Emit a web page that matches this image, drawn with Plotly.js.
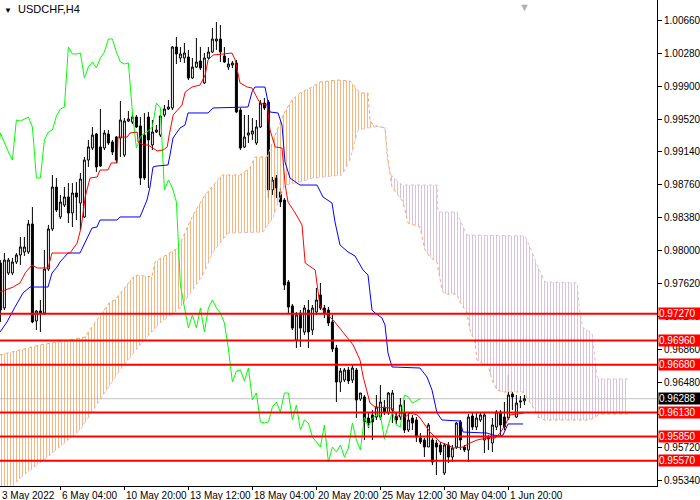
<!DOCTYPE html>
<html>
<head>
<meta charset="utf-8">
<script src="https://cdn.plot.ly/plotly-3.0.1.min.js"></script>
<style>html,body{margin:0;padding:0;background:#fff;}#chart{width:700px;height:500px;}</style>
</head>
<body>
<div id="chart"></div>
<script>
// ---- data ----
const symbolTitle = "USDCHF,H4";
const openP = [0.97857,0.97337,0.97741,0.97741,0.97868,0.97949,0.97984,0.97984,0.98308,0.97186,
0.97302,0.97279,0.97787,0.98250,0.98735,0.98389,0.98527,0.98620,0.98435,0.98666,
0.98550,0.98389,0.99047,0.99186,0.99348,0.99198,0.99186,0.99348,0.99256,0.99313,
0.99302,0.99105,0.99498,0.99487,0.99544,0.99441,0.99336,0.99544,0.99221,0.99371,
0.99336,0.99568,0.99637,0.99649,1.00354,1.00227,1.00227,1.00238,0.99995,1.00122,
1.00192,0.99938,1.00227,1.00296,1.00423,1.00446,1.00250,1.00122,1.00146,1.00169,
0.99625,0.99198,0.99336,0.99348,0.99244,0.99429,0.99706,0.99718,0.98701,0.98839,
0.98677,0.98585,0.97637,0.97360,0.96966,0.97279,0.97059,0.97313,0.97082,0.97290,
0.97487,0.97337,0.97313,0.97175,0.96874,0.96481,0.96504,0.96620,0.96504,0.96620,
0.96285,0.96308,0.96065,0.96100,0.96076,0.96076,0.96192,0.96123,0.96157,0.96088,
0.96076,0.96123,0.95926,0.96065,0.96042,0.95834,0.95811,0.95730,0.95811,0.95776,
0.95753,0.95429,0.95753,0.95614,0.95730,0.96019,0.95730,0.95695,0.96088,0.95961,
0.96042,0.95811,0.95845,0.95776,0.95961,0.96134,0.96076,0.96065,0.96342,0.96076,
0.96250,0.96262];
const highP = [0.97891,0.97972,0.97915,0.97915,0.97972,0.98157,0.98157,0.98354,0.98504,0.97313,
0.97429,0.98007,0.98297,0.98874,0.98839,0.98643,0.98735,0.98782,0.98782,0.98793,
0.98897,0.99082,0.99279,0.99429,0.99360,0.99637,0.99394,0.99394,0.99279,0.99325,
0.99729,0.99533,0.99614,0.99602,0.99568,0.99544,0.99591,0.99602,0.99510,0.99452,
0.99568,0.99683,0.99741,1.00366,1.00469,1.00354,1.00400,1.00319,1.00227,1.00458,
1.00354,1.00284,1.00354,1.00573,1.00643,1.00608,1.00354,1.00227,1.00192,1.00204,
0.99649,0.99568,0.99568,0.99533,0.99510,0.99741,0.99764,0.99741,0.98851,0.98874,
0.98724,0.98608,0.97660,0.97383,0.97290,0.97313,0.97371,0.97429,0.97371,0.97568,
0.97626,0.97371,0.97348,0.97256,0.96909,0.96643,0.96643,0.96655,0.96677,0.96643,
0.96354,0.96331,0.96134,0.96157,0.96331,0.96446,0.96273,0.96366,0.96389,0.96134,
0.96296,0.96273,0.96123,0.96100,0.96076,0.95891,0.95834,0.96007,0.95834,0.95811,
0.95788,0.95776,0.95788,0.95753,0.96019,0.96042,0.95753,0.96111,0.96123,0.96123,
0.96123,0.96123,0.95868,0.96065,0.96157,0.96157,0.96250,0.96562,0.96366,0.96331,
0.96320,0.96331];
const lowP = [0.97175,0.97313,0.97718,0.97718,0.97845,0.97834,0.97938,0.97961,0.97160,0.97082,
0.97059,0.97256,0.97764,0.98227,0.98446,0.98365,0.98504,0.98319,0.98273,0.98354,
0.98238,0.98377,0.98967,0.99163,0.98909,0.98967,0.99163,0.99221,0.99105,0.99013,
0.99082,0.99082,0.99487,0.99464,0.99417,0.98758,0.98816,0.98724,0.99163,0.99360,
0.99313,0.99544,0.99625,0.99625,1.00157,1.00180,1.00169,0.99972,0.99984,1.00111,
1.00088,0.99926,1.00215,1.00284,1.00319,1.00180,1.00169,1.00088,1.00111,0.99591,
0.99163,0.99186,0.99244,0.99279,0.99221,0.99417,0.99625,0.98608,0.98643,0.98608,
0.98504,0.97545,0.97279,0.97082,0.96874,0.96886,0.97024,0.96874,0.97024,0.97256,
0.97313,0.97221,0.97128,0.96828,0.96250,0.96366,0.96481,0.96458,0.96470,0.96065,
0.96262,0.95811,0.95949,0.95811,0.96042,0.96042,0.96100,0.96100,0.96007,0.95996,
0.96042,0.95891,0.95903,0.95926,0.95788,0.95764,0.95614,0.95730,0.95521,0.95406,
0.95637,0.95406,0.95545,0.95556,0.95707,0.95695,0.95672,0.95556,0.95926,0.95926,
0.96019,0.95660,0.95695,0.95672,0.95926,0.95868,0.95926,0.96042,0.96157,0.96065,
0.96180,0.96215];
const closeP = [0.97313,0.97891,0.97891,0.97868,0.97949,0.98042,0.98042,0.98308,0.97175,0.97302,
0.97279,0.97787,0.98250,0.98735,0.98469,0.98562,0.98620,0.98435,0.98666,0.98620,
0.98828,0.99047,0.99198,0.99336,0.98967,0.98978,0.99360,0.99244,0.99140,0.99047,
0.99510,0.99498,0.99521,0.99544,0.99429,0.98839,0.98839,0.99279,0.99371,0.99394,
0.99556,0.99637,0.99660,1.00354,1.00273,1.00273,1.00284,0.99995,1.00122,1.00180,
1.00111,1.00227,1.00296,1.00446,1.00446,1.00296,1.00180,1.00157,1.00169,0.99602,
0.99186,0.99313,0.99360,0.99383,0.99429,0.99706,0.99649,0.98701,0.98816,0.98724,
0.98562,0.97602,0.97348,0.97105,0.97256,0.97105,0.97337,0.97059,0.97337,0.97429,
0.97337,0.97279,0.97163,0.96863,0.96481,0.96608,0.96620,0.96493,0.96643,0.96273,
0.96354,0.96019,0.96007,0.96019,0.96192,0.96250,0.96134,0.96354,0.96354,0.96042,
0.96215,0.95926,0.96042,0.96007,0.95845,0.95788,0.95730,0.95984,0.95556,0.95730,
0.95672,0.95753,0.95614,0.95718,0.96007,0.95811,0.95695,0.96076,0.95961,0.96065,
0.96100,0.96100,0.95822,0.95984,0.96134,0.95984,0.95961,0.96331,0.96308,0.96238,
0.96262,0.96288];

// Tenkan-sen (red) vertices: bar position / price
const tenkanN = [0.9,4.2,5.9,7.2,8.9,10.2,12.9,13.9,18.4,20.2,21.2,22.2,23.4,25.2,25.9,27.9,28.7,30.2,30.4,32.7,33.4,35.2,35.4,36.7,37.9,39.2,40.2,41.7,42.7,43.2,44.2,46.4,47.2,48.9,50.9,52.2,52.9,54.2,58.9,59.7,60.9,62.7,63.9,65.2,65.9,67.7,68.4,69.7,71.4,72.2,72.9,74.7,76.4,77.2,79.7,80.9,82.2,84.2,89.2,90.9,91.7,93.4,94.7,98.9,100.2,101.4,102.2,103.4,105.2,105.9,107.2,108.4,109.7,110.9,112.9,114.2,116.7,118.4,120.2,122.7,124.7,125.9,127.2,128.4,131.9];
const tenkanP = [0.97522,0.97579,0.97626,0.97741,0.97834,0.97799,0.97799,0.97972,0.97972,0.98088,0.98273,0.98620,0.98839,0.98851,0.98932,0.98932,0.99013,0.99013,0.99313,0.99313,0.99360,0.99371,0.99256,0.99221,0.99221,0.99186,0.99152,0.99163,0.99198,0.99336,0.99568,0.99683,0.99833,0.99891,0.99914,1.00030,1.00204,1.00261,1.00284,1.00204,0.99938,0.99891,0.99880,0.99764,0.99706,0.99683,0.99394,0.99198,0.99186,0.98758,0.98562,0.98435,0.98296,0.97857,0.97776,0.97360,0.97279,0.97198,0.96909,0.96735,0.96539,0.96238,0.96192,0.96180,0.96076,0.96134,0.96076,0.96123,0.96100,0.96065,0.95984,0.95903,0.95845,0.95788,0.95753,0.95718,0.95730,0.95776,0.95811,0.95834,0.95834,0.95891,0.95984,0.96100,0.96123];

// Kijun-sen (blue) vertices
const kijunN = [0.9,2.65,4.65,6.65,8.4,12.9,13.9,15.15,15.9,17.9,20.9,22.15,23.9,25.15,25.9,30.15,30.9,35.9,37.65,38.4,39.15,40.15,42.9,43.4,44.15,45.9,47.15,47.9,52.9,54.15,62.9,63.9,64.65,67.15,67.65,68.4,70.4,71.4,72.15,73.4,75.15,75.9,80.15,81.65,83.9,84.65,85.9,87.9,89.65,91.65,92.9,93.9,94.65,96.4,97.15,97.9,98.9,105.9,107.65,108.9,110.15,111.4,115.9,116.65,122.65,124.15,125.9,126.65,127.9,131.65];
const kijunP = [0.97059,0.97175,0.97348,0.97510,0.97579,0.97579,0.97741,0.97810,0.97868,0.97972,0.97972,0.98088,0.98261,0.98273,0.98354,0.98354,0.98389,0.98389,0.98585,0.98735,0.98967,0.98978,0.98990,0.99105,0.99302,0.99417,0.99452,0.99591,0.99591,0.99649,0.99660,0.99834,0.99891,0.99891,0.99764,0.99602,0.99591,0.99452,0.99024,0.98839,0.98781,0.98758,0.98758,0.98620,0.98550,0.98331,0.98065,0.97984,0.97938,0.97776,0.97718,0.97313,0.97279,0.97221,0.97140,0.96816,0.96655,0.96643,0.96539,0.96389,0.96123,0.96042,0.96030,0.95903,0.95891,0.95868,0.95857,0.95868,0.95996,0.95996];

// Senkou span A and B vertices (cloud)
const spanAN = [0.9,10.9,18.4,22.15,25.15,28.4,29.65,32.9,34.65,38.9,39.65,41.65,43.4,45.4,49.15,52.15,56.4,60.9,63.4,64.65,67.65,69.65,71.65,73.9,75.9,78.9,80.9,85.15,88.4,90.9,92.9,93.4,94.15,97.15,97.9,98.9,101.65,102.9,105.9,107.15,108.4,110.15,111.4,112.15,115.15,115.9,117.65,118.4,119.65,120.15,121.4,122.9,123.9,125.15,126.65,131.65,132.65,134.15,135.4,137.15,148.4,150.9,157.9];
const spanAP = [0.96793,0.96909,0.96967,0.97001,0.97198,0.97406,0.97429,0.97626,0.97718,0.97695,0.97868,0.97926,0.97972,0.98030,0.98412,0.98643,0.98874,0.98874,0.98955,0.99082,0.99082,0.99336,0.99568,0.99741,0.99822,0.99891,0.99949,0.99972,0.99961,0.99822,0.99822,0.99510,0.99452,0.99417,0.99047,0.98735,0.98562,0.98319,0.98273,0.98007,0.97926,0.97868,0.97545,0.97498,0.97498,0.97406,0.97279,0.97082,0.96943,0.96735,0.96701,0.96678,0.96504,0.96389,0.96366,0.96366,0.96296,0.96192,0.96076,0.96042,0.96042,0.96111,0.96111];
const spanBN = [0.9,5.9,13.4,20.9,25.9,30.9,35.9,40.9,45.9,51.65,54.15,57.9,66.65,69.15,70.4,72.15,75.9,79.15,86.4,88.4,90.4,94.15,97.15,97.65,98.4,99.15,101.4,110.15,110.4,115.15,115.9,117.65,132.15,133.4,135.15,137.15,145.15,145.9,146.65,148.9,150.15,150.9,157.9];
const spanBP = [0.95117,0.95371,0.95637,0.95926,0.96273,0.96620,0.96909,0.97163,0.97337,0.97718,0.97984,0.98204,0.98215,0.98377,0.98562,0.98758,0.98793,0.98839,0.98874,0.99047,0.99394,0.99429,0.99429,0.99082,0.98897,0.98851,0.98758,0.98758,0.98446,0.98446,0.98354,0.98180,0.98169,0.98042,0.97834,0.97637,0.97626,0.97279,0.97105,0.97048,0.96539,0.96516,0.96516];
const cloudCross = 94.15;
const chikouShift = 26;

// horizontal levels, price line, axis ticks
const levels = [0.97270, 0.96960, 0.96680, 0.96130, 0.95850, 0.95570];
const lastPrice = 0.96288;
const yTickVals = [1.0066,1.0028,0.9990,0.9952,0.9914,0.9876,0.9838,0.9800,0.9762,0.9724,0.9686,0.9648,0.9610,0.9572,0.9534];
const xTickPos = [0,16,32,48,64,80,96,112,128];
const xTickLabels = ["3 May 2022","6 May 04:00","10 May 20:00","13 May 12:00","18 May 04:00","20 May 20:00","25 May 12:00","30 May 04:00","1 Jun 20:00"];

// ---- build traces ----
const barX = openP.map((_, i) => i + 1);
const chikouX = barX.map(v => v - chikouShift);

function part(ns, ps, cond) {
  const xs = [], ys = [];
  ns.forEach((n, i) => { if (cond(n)) { xs.push(n); ys.push(ps[i]); } });
  return {xs, ys};
}
const aL = part(spanAN, spanAP, n => n <= cloudCross);
const bL = part(spanBN, spanBP, n => n <= cloudCross);
const aR = part(spanAN, spanAP, n => n >= cloudCross);
const bR = part(spanBN, spanBP, n => n >= cloudCross);

const FONT = "Liberation Sans, Arial, sans-serif";
const sandy = "#F4A460", thistle = "#D8BFD8";

const traces = [
  { type: "scatter", mode: "none", x: aL.xs.concat(bL.xs.slice().reverse()),
    y: aL.ys.concat(bL.ys.slice().reverse()), fill: "toself", fillcolor: "rgba(0,0,0,0)",
    fillpattern: {shape: "|", fgcolor: "rgba(244,164,96,0.8)", size: 3, solidity: 0.34, fillmode: "replace"},
    hoverinfo: "skip" },
  { type: "scatter", mode: "none", x: bR.xs.concat(aR.xs.slice().reverse()),
    y: bR.ys.concat(aR.ys.slice().reverse()), fill: "toself", fillcolor: "rgba(0,0,0,0)",
    fillpattern: {shape: "|", fgcolor: "rgba(216,191,216,0.95)", size: 3, solidity: 0.34, fillmode: "replace"},
    hoverinfo: "skip" },
  { type: "scatter", mode: "lines", x: spanAN, y: spanAP, line: {color: sandy, width: 1, dash: "dot"} },
  { type: "scatter", mode: "lines", x: spanBN, y: spanBP, line: {color: thistle, width: 1, dash: "dot"} },
  { type: "candlestick", x: barX, open: openP, high: highP, low: lowP, close: closeP,
    increasing: {line: {color: "#000000", width: 1}, fillcolor: "#FFFFFF"},
    decreasing: {line: {color: "#000000", width: 1}, fillcolor: "#000000"},
    whiskerwidth: 0 },
  { type: "scatter", mode: "lines", x: chikouX, y: closeP, line: {color: "#00FF00", width: 1} },
  { type: "scatter", mode: "lines", x: kijunN, y: kijunP, line: {color: "#0000FF", width: 1} },
  { type: "scatter", mode: "lines", x: tenkanN, y: tenkanP, line: {color: "#FF0000", width: 1} }
];

const shapes = [
  { type: "line", xref: "paper", x0: 0, x1: 1, yref: "y", y0: lastPrice, y1: lastPrice,
    line: {color: "#C0C0C0", width: 1}, layer: "below" }
].concat(levels.map(v => ({
  type: "line", xref: "paper", x0: 0, x1: 1, yref: "y", y0: v, y1: v,
  line: {color: "#FF0000", width: 2}, layer: "above"
})));

const annotations = [];
levels.forEach(v => annotations.push({
  xref: "paper", x: 1, xanchor: "left", xshift: 1, yref: "y", y: v, yanchor: "middle",
  text: v.toFixed(5), showarrow: false, bgcolor: "#FF0000", width: 41, height: 11,
  align: "left", borderpad: 0, font: {family: FONT, size: 10, color: "#FFFFFF"}
}));
annotations.push({
  xref: "paper", x: 1, xanchor: "left", xshift: 1, yref: "y", y: lastPrice, yanchor: "middle",
  text: lastPrice.toFixed(5), showarrow: false, bgcolor: "#000000", width: 41, height: 11,
  align: "left", borderpad: 0, font: {family: FONT, size: 10, color: "#FFFFFF"}
});
xTickPos.forEach((p, i) => {
  if (i === 0) {
    annotations.push({ xref: "paper", x: 0, xanchor: "left", yref: "paper", y: 0, yanchor: "top",
      yshift: -2, text: xTickLabels[i], showarrow: false, font: {family: FONT, size: 10, color: "#000"} });
  } else {
    annotations.push({ xref: "x", x: p, xanchor: "left", xshift: 0, yref: "paper", y: 0, yanchor: "top",
      yshift: -2, text: xTickLabels[i], showarrow: false, font: {family: FONT, size: 10, color: "#000"} });
  }
});
annotations.push({ xref: "paper", x: 0, xanchor: "left", xshift: 2, yref: "paper", y: 1, yanchor: "top",
  yshift: -1, text: '<span style="font-size:8px">\u25BC</span>  ' + symbolTitle, showarrow: false,
  font: {family: FONT, size: 11, color: "#000"} });
annotations.push({ xref: "x", x: barX[barX.length - 1], xanchor: "center", yref: "paper", y: 1,
  yanchor: "top", yshift: 1, text: "\u25BC", showarrow: false, font: {family: FONT, size: 11, color: "#B0B0B0"} });

const layout = {
  width: 700, height: 500,
  margin: {l: 0, r: 43, t: 0, b: 14, pad: 0},
  paper_bgcolor: "#FFFFFF", plot_bgcolor: "#FFFFFF",
  showlegend: false, hovermode: false,
  font: {family: FONT, size: 10, color: "#000"},
  xaxis: {
    range: [0.9, 165.15], showgrid: false, zeroline: false,
    showline: true, linecolor: "#000", linewidth: 1,
    ticks: "outside", ticklen: 3, tickcolor: "#000", tickwidth: 1,
    tickmode: "array", tickvals: xTickPos.slice(1), showticklabels: false,
    rangeslider: {visible: false}, fixedrange: true
  },
  yaxis: {
    side: "right", range: [0.95279, 1.00897], showgrid: false, zeroline: false,
    showline: true, linecolor: "#000", linewidth: 1,
    ticks: "outside", ticklen: 4, tickcolor: "#000", tickwidth: 1,
    tickmode: "array", tickvals: yTickVals, ticktext: yTickVals.map(v => v.toFixed(5)),
    tickfont: {family: FONT, size: 10, color: "#000"}, fixedrange: true
  },
  shapes: shapes,
  annotations: annotations
};

Plotly.newPlot("chart", traces, layout, {staticPlot: true, displayModeBar: false});
</script>
</body>
</html>
